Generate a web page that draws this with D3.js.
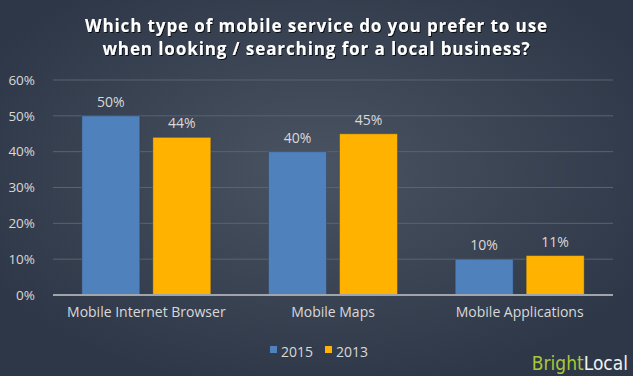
<!DOCTYPE html>
<html>
<head>
<meta charset="utf-8">
<script src="https://cdn.jsdelivr.net/npm/d3@7"></script>
<style>
    html, body { margin: 0; padding: 0; background: #323b4a; }
    svg { display: block; font-family: "Open Sans", "Liberation Sans", sans-serif; }
</style>
</head>
<body>
<div id="chart"></div>
<script>
"use strict";

const WIDTH = 633;
const HEIGHT = 376;

const categories = ["Mobile Internet Browser", "Mobile Maps", "Mobile Applications"];
const seriesNames = ["2015", "2013"];
const values2015 = [50, 40, 10];
const values2013 = [44, 45, 11];
const yTicks = [0, 10, 20, 30, 40, 50, 60];
const titleLines = [
    "Which type of mobile service do you prefer to use",
    "when looking / searching for a local business?"
];

const COLORS = { "2015": "#4f81bd", "2013": "#ffb300" };
const margin = { top: 80, right: 20, bottom: 81, left: 53 };

const svg = d3.select("#chart")
    .append("svg")
    .attr("width", WIDTH)
    .attr("height", HEIGHT);

// Background gradient
const defs = svg.append("defs");
const bg = defs.append("radialGradient")
    .attr("id", "bg")
    .attr("cx", "50%").attr("cy", "45%").attr("r", "60%");
bg.append("stop").attr("offset", "0%").attr("stop-color", "#4a5362");
bg.append("stop").attr("offset", "100%").attr("stop-color", "#2e3747");

const shadow = defs.append("filter").attr("id", "shadow");
shadow.append("feDropShadow")
    .attr("dx", 1).attr("dy", 1).attr("stdDeviation", 0.6)
    .attr("flood-color", "#000").attr("flood-opacity", 0.8);

svg.append("rect")
    .attr("width", WIDTH)
    .attr("height", HEIGHT)
    .attr("fill", "url(#bg)");

// Title
svg.append("g")
    .selectAll("text")
    .data(titleLines)
    .enter()
    .append("text")
    .attr("x", WIDTH / 2)
    .attr("y", (_, i) => 32 + i * 23)
    .attr("text-anchor", "middle")
    .attr("fill", "#ffffff")
    .attr("font-size", 17)
    .attr("font-weight", "bold")
    .attr("letter-spacing", 0.9)
    .attr("filter", "url(#shadow)")
    .text(d => d);

const innerWidth = WIDTH - margin.left - margin.right;
const innerHeight = HEIGHT - margin.top - margin.bottom;

const x0 = d3.scaleBand()
    .domain(categories)
    .range([0, innerWidth]);

const x1 = d3.scaleBand()
    .domain(seriesNames)
    .range([x0.bandwidth() / 2 - 64.5, x0.bandwidth() / 2 + 64.5])
    .paddingInner(0.183);

const y = d3.scaleLinear()
    .domain([0, 60])
    .range([innerHeight, 0]);

const plot = svg.append("g")
    .attr("transform", `translate(${margin.left},${margin.top})`);

// Gridlines
plot.append("g")
    .selectAll("line")
    .data(yTicks.filter(t => t > 0))
    .enter()
    .append("line")
    .attr("x1", 0)
    .attr("x2", innerWidth)
    .attr("y1", d => y(d))
    .attr("y2", d => y(d))
    .attr("stroke", "#5a6372")
    .attr("stroke-width", 1);

// Y axis labels
const yAxis = plot.append("g")
    .attr("transform", "translate(-15,0)")
    .call(d3.axisLeft(y).tickValues(yTicks).tickFormat(d => d + "%").tickSize(0));
yAxis.select(".domain").remove();
yAxis.selectAll("text")
    .attr("fill", "#d9d9d9")
    .attr("font-size", 13.5)
    .attr("font-family", "Open Sans, sans-serif");

const rows = categories.map((c, i) => ({
    category: c,
    values: [
        { key: "2015", value: values2015[i] },
        { key: "2013", value: values2013[i] }
    ]
}));

const groups = plot.selectAll(".group")
    .data(rows)
    .enter()
    .append("g")
    .attr("transform", d => `translate(${x0(d.category)},0)`);

groups.selectAll("rect")
    .data(d => d.values)
    .enter()
    .append("rect")
    .attr("x", d => x1(d.key))
    .attr("y", d => y(d.value))
    .attr("width", x1.bandwidth())
    .attr("height", d => innerHeight - y(d.value))
    .attr("fill", d => COLORS[d.key])
    .attr("stroke", "#2e3747")
    .attr("stroke-opacity", 0.4);

groups.selectAll(".value")
    .data(d => d.values)
    .enter()
    .append("text")
    .attr("x", d => x1(d.key) + x1.bandwidth() / 2)
    .attr("y", d => y(d.value) - 9)
    .attr("text-anchor", "middle")
    .attr("fill", "#d9d9d9")
    .attr("font-size", 14)
    .text(d => d.value + "%");

// Baseline
plot.append("line")
    .attr("x1", 0)
    .attr("x2", innerWidth)
    .attr("y1", innerHeight)
    .attr("y2", innerHeight)
    .attr("stroke", "#a0a4ab")
    .attr("stroke-width", 2);

// Category labels
const xAxis = plot.append("g")
    .attr("transform", `translate(0,${innerHeight + 9})`)
    .call(d3.axisBottom(x0).tickSize(0));
xAxis.select(".domain").remove();
xAxis.selectAll("text")
    .attr("fill", "#d9d9d9")
    .attr("font-size", 14)
    .attr("font-family", "Open Sans, sans-serif");

// Legend
const legend = svg.append("g")
    .attr("transform", "translate(270,346)");
const items = legend.selectAll("g")
    .data(seriesNames)
    .enter()
    .append("g")
    .attr("transform", (_, i) => `translate(${i * 55},0)`);
items.append("rect")
    .attr("width", 7)
    .attr("height", 7)
    .attr("fill", d => COLORS[d]);
items.append("text")
    .attr("x", 11)
    .attr("y", 11)
    .attr("fill", "#d9d9d9")
    .attr("font-size", 14)
    .text(d => d);

// Logo
const logo = svg.append("text")
    .attr("x", 628)
    .attr("y", 370)
    .attr("text-anchor", "end")
    .attr("font-family", "Liberation Sans Narrow, DejaVu Sans Condensed, sans-serif")
    .attr("font-size", 19);
logo.append("tspan").attr("fill", "#a8c83a").text("Bright");
logo.append("tspan").attr("fill", "#f2f2f2").text("Local");
</script>
</body>
</html>
